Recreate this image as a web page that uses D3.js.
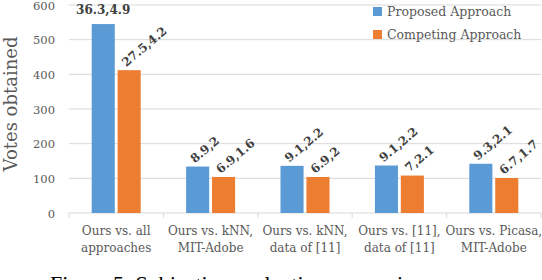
<!DOCTYPE html>
<html>
<head>
<meta charset="utf-8">
<script src="https://cdn.jsdelivr.net/npm/d3@7"></script>
<style>
  body { margin: 0; background: #fff; }
  svg { display: block; }
</style>
</head>
<body>
<svg id="chart" width="542" height="280"></svg>
<script>
// data
let categories = [
    ["Ours vs. all", "approaches"],
    ["Ours vs. kNN,", "MIT-Adobe"],
    ["Ours vs. kNN,", "data of [11]"],
    ["Ours vs. [11],", "data of [11]"],
    ["Ours vs. Picasa,", "MIT-Adobe"]
]
let proposed = [545, 134, 136, 137, 142]
let competing = [412, 104, 104, 108, 101]
let proposedLabels = ["36.3,4.9", "8.9,2", "9.1,2.2", "9.1,2.2", "9.3,2.1"]
let competingLabels = ["27.5,4.2", "6.9,1.6", "6.9,2", "7,2.1", "6.7,1.7"]
let yTicks = [0, 100, 200, 300, 400, 500, 600]
let seriesNames = ["Proposed Approach", "Competing Approach"]
let colours = ["#5b9bd5", "#ed7d31"]

let svg = d3.select('#chart')
let font = "'DejaVu Serif', serif"
let margins = { t: 5, r: 1, b: 67, l: 69 }
let width = 542, height = 280

let cScale = d3.scaleBand()
    .domain(d3.range(categories.length))
    .range([margins.l, width - margins.r])

let sScale = d3.scaleBand()
    .domain([0, 1])
    .range([0, 49])
    .paddingInner(0.11)

let nScale = d3.scaleLinear()
    .domain([0, 600])
    .range([height - margins.b, margins.t])

// gridlines
svg.append('g')
    .selectAll('line')
    .data(yTicks.slice(1))
    .join('line')
    .attr('x1', margins.l)
    .attr('x2', width - margins.r)
    .attr('y1', d => nScale(d))
    .attr('y2', d => nScale(d))
    .attr('stroke', '#d9d9d9')
    .attr('stroke-width', 1)

// y axis tick labels
svg.append('g')
    .selectAll('text')
    .data(yTicks)
    .join('text')
    .attr('x', 55)
    .attr('y', d => nScale(d) + 4.5)
    .attr('text-anchor', 'end')
    .attr('font-family', font)
    .attr('font-size', 11.5)
    .attr('fill', '#595959')
    .text(d => d)

// category axis
let base = nScale(0)
svg.append('line')
    .attr('x1', margins.l).attr('x2', width - margins.r)
    .attr('y1', base).attr('y2', base)
    .attr('stroke', '#d9d9d9')
svg.append('g')
    .selectAll('line')
    .data(d3.range(categories.length + 1))
    .join('line')
    .attr('x1', d => d < categories.length ? cScale(d) : width - margins.r)
    .attr('x2', d => d < categories.length ? cScale(d) : width - margins.r)
    .attr('y1', base).attr('y2', base + 5)
    .attr('stroke', '#d9d9d9')

let catLabels = svg.append('g')
    .selectAll('text')
    .data(categories)
    .join('text')
    .attr('text-anchor', 'middle')
    .attr('font-family', font)
    .attr('font-size', 12)
    .attr('fill', '#595959')
catLabels.selectAll('tspan')
    .data((d, i) => d.map(line => ({ line, i })))
    .join('tspan')
    .attr('x', d => cScale(d.i) + cScale.bandwidth() / 2)
    .attr('y', (d, j) => 235 + j * 17)
    .text(d => d.line)

// bars
let offset = (cScale.bandwidth() - sScale.range()[1]) / 2
let series = [proposed, competing]
let labels = [proposedLabels, competingLabels]
series.forEach((values, s) => {
    svg.append('g')
        .selectAll('rect')
        .data(values)
        .join('rect')
        .attr('x', (d, i) => cScale(i) + offset + sScale(s))
        .attr('y', d => nScale(d))
        .attr('width', sScale.bandwidth())
        .attr('height', d => base - nScale(d))
        .attr('fill', colours[s])

    svg.append('g')
        .selectAll('text')
        .data(values)
        .join('text')
        .attr('transform', (d, i) => {
            let cx = cScale(i) + offset + sScale(s) + sScale.bandwidth() / 2
            if (s === 0 && i === 0) return `translate(${cx},${nScale(d) - 10})`
            return `translate(${cx - 3},${nScale(d) - 3}) rotate(-40)`
        })
        .attr('text-anchor', (d, i) => (s === 0 && i === 0) ? 'middle' : 'start')
        .attr('font-family', font)
        .attr('font-size', 12)
        .attr('font-weight', 'bold')
        .attr('fill', '#404040')
        .text((d, i) => labels[s][i])
})

// legend
let legend = svg.append('g')
    .selectAll('g')
    .data(seriesNames)
    .join('g')
    .attr('transform', (d, i) => `translate(373,${7 + i * 23})`)
legend.append('rect')
    .attr('width', 9).attr('height', 9)
    .attr('fill', (d, i) => colours[i])
legend.append('text')
    .attr('x', 14).attr('y', 9)
    .attr('font-family', font)
    .attr('font-size', 12.5)
    .attr('fill', '#595959')
    .text(d => d)

// y axis title
svg.append('text')
    .attr('transform', `translate(17,104) rotate(-90)`)
    .attr('text-anchor', 'middle')
    .attr('font-family', font)
    .attr('font-size', 18)
    .attr('fill', '#595959')
    .text("Votes obtained")

// caption, cut off by the bottom edge as in the reference
svg.append('text')
    .attr('x', 50).attr('y', 291)
    .attr('font-family', "'Liberation Serif', serif")
    .attr('font-size', 22)
    .attr('fill', '#000')
    .text("Figure 5: Subjective evaluation comparison")
</script>
</body>
</html>
